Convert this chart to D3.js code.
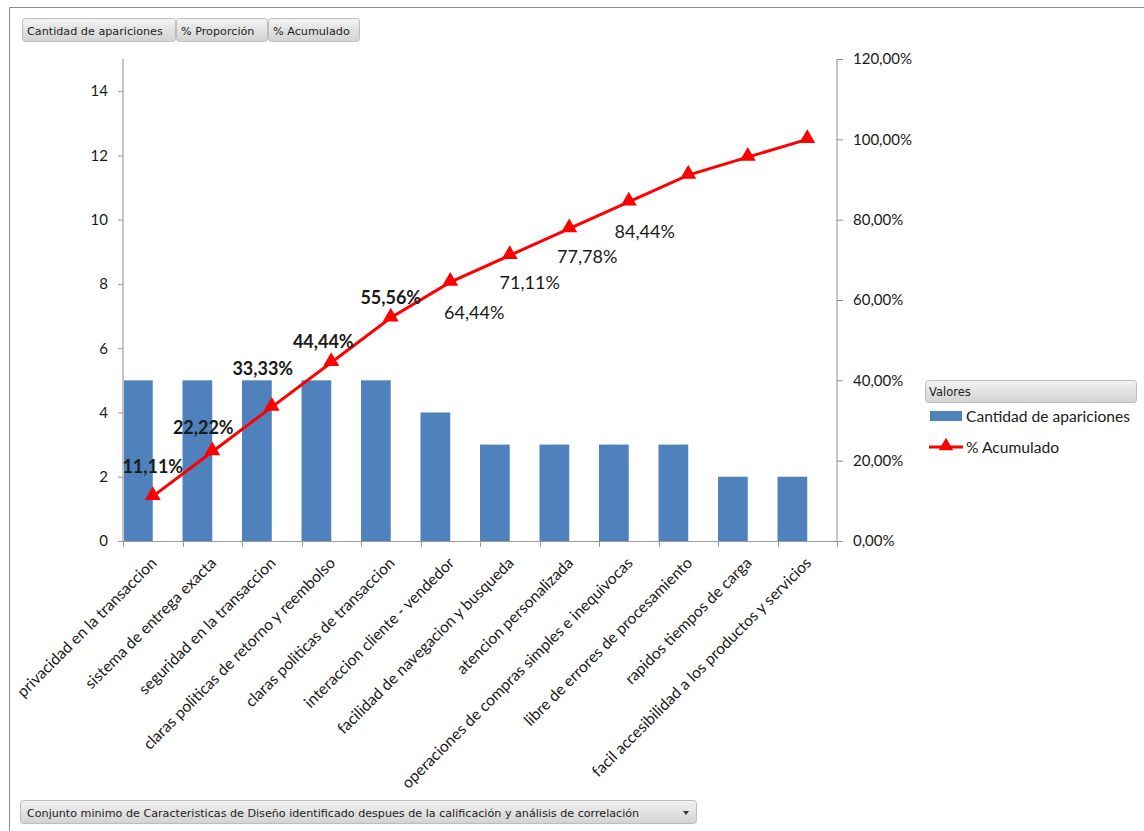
<!DOCTYPE html>
<html>
<head>
<meta charset="utf-8">
<script src="https://cdn.jsdelivr.net/npm/d3@7"></script>
<style>
  html, body { margin: 0; padding: 0; background: #fff; }
  svg { display: block; }
  .lbl { font-family: Lato, "Open Sans", sans-serif; fill: #1a1a1a; }
  .ui { font-family: "DejaVu Sans", Tahoma, sans-serif; fill: #222; }
</style>
</head>
<body>
<svg id="chart" width="1144" height="831"></svg>
<script>
// Pareto data: characteristic, number of occurrences, cumulative share (%)
const categories = [
  "privacidad en la transaccion",
  "sistema de entrega exacta",
  "seguridad en la transaccion",
  "claras politicas de retorno y reembolso",
  "claras politicas de transaccion",
  "interaccion  cliente - vendedor",
  "facilidad de navegacion y busqueda",
  "atencion personalizada",
  "operaciones de compras simples e inequivocas",
  "libre de errores de procesamiento",
  "rapidos tiempos de carga",
  "facil accesibilidad a los productos y servicios"
];
const counts = [5, 5, 5, 5, 5, 4, 3, 3, 3, 3, 2, 2];
const cumulative = [11.11, 22.22, 33.33, 44.44, 55.56, 64.44, 71.11, 77.78, 84.44, 91.11, 95.56, 100.00];
// labels shown on the cumulative line (null = no label)
const cumulativeLabels = ["11,11%", "22,22%", "33,33%", "44,44%", "55,56%", "64,44%", "71,11%", "77,78%", "84,44%", null, null, null];
const leftTicks = [0, 2, 4, 6, 8, 10, 12, 14];
const rightTicks = [0, 20, 40, 60, 80, 100, 120];
const fieldButtons = ["Cantidad de apariciones", "% Proporción", "% Acumulado"];
const filterText = "Conjunto minimo de Caracteristicas de Diseño identificado despues de la calificación y análisis de correlación";
const legendItems = ["Cantidad de apariciones", "% Acumulado"];

// label placement relative to each point (dx, dy) and weight
const labelPlacement = [
  [0, -30, 700], [-9, -24, 700], [-9, -38, 700], [-8, -21, 700], [0, -20, 700],
  [24, 31, 400], [20, 27, 400], [18, 28, 400], [16, 30, 400]
];

const svg = d3.select("#chart");
const plot = { left: 123, right: 837, top: 59, bottom: 541 };

const x = d3.scaleBand().domain(categories).range([plot.left, plot.right]).paddingInner(0).paddingOuter(0);
const yL = d3.scaleLinear().domain([0, 15]).range([plot.bottom, plot.top]);
const yR = d3.scaleLinear().domain([0, 120]).range([plot.bottom, plot.top]);

// frame
svg.append("path").attr("d", "M9.5,831 V7.5 H1144").attr("fill", "none").attr("stroke", "#8a8a8a").attr("stroke-width", 1);

// gradient for pivot buttons
const defs = svg.append("defs");
const g1 = defs.append("linearGradient").attr("id", "btn").attr("x1", 0).attr("x2", 0).attr("y1", 0).attr("y2", 1);
g1.append("stop").attr("offset", "0%").attr("stop-color", "#f3f3f3");
g1.append("stop").attr("offset", "100%").attr("stop-color", "#d2d2d2");

// field buttons
const btnX = [22, 176, 268, 360];
fieldButtons.forEach((t, i) => {
  svg.append("rect").attr("x", btnX[i] + 0.5).attr("y", 18.5).attr("width", btnX[i + 1] - btnX[i] - 1).attr("height", 23)
    .attr("rx", 3).attr("fill", "url(#btn)").attr("stroke", "#bdbdbd");
  svg.append("text").attr("class", "ui").attr("x", btnX[i] + 5).attr("y", 34.5).attr("font-size", 11.2).text(t);
});

// filter dropdown
svg.append("rect").attr("x", 20.5).attr("y", 800.5).attr("width", 676).attr("height", 23).attr("rx", 3)
  .attr("fill", "url(#btn)").attr("stroke", "#bdbdbd");
svg.append("text").attr("class", "ui").attr("x", 27).attr("y", 816.5).attr("font-size", 11.15).text(filterText);
svg.append("path").attr("d", "M683,811 h6 l-3,4 z").attr("fill", "#333");

// bars (left half of each category slot)
svg.append("g").selectAll("rect").data(counts).join("rect")
  .attr("x", (d, i) => x(categories[i]))
  .attr("width", x.bandwidth() / 2)
  .attr("y", d => yL(d))
  .attr("height", d => yL(0) - yL(d))
  .attr("fill", "#4f81bd");

// left axis
const axL = svg.append("g").attr("transform", `translate(${plot.left},0)`)
  .call(d3.axisLeft(yL).tickValues(leftTicks).tickSize(5).tickPadding(10).tickFormat(d3.format("d")));
axL.select(".domain").attr("d", `M0,${plot.top}V${plot.bottom}`).attr("stroke", "#c4c4c4").attr("stroke-width", 2);
axL.selectAll(".tick line").attr("stroke", "#9a9a9a");
axL.selectAll(".tick text").attr("class", "lbl").attr("font-size", 15).attr("fill", "#1a1a1a");

// right axis
const fmtPct = v => v.toFixed(2).replace(".", ",") + "%";
const axR = svg.append("g").attr("transform", `translate(${plot.right},0)`)
  .call(d3.axisRight(yR).tickValues(rightTicks).tickSize(6).tickPadding(10).tickFormat(fmtPct));
axR.select(".domain").attr("d", `M0,${plot.top}V${plot.bottom}`).attr("stroke", "#8c8c8c");
axR.selectAll(".tick line").attr("stroke", "#8c8c8c");
axR.selectAll(".tick text").attr("class", "lbl").attr("font-size", 15).attr("fill", "#1a1a1a");

// category axis
const axX = svg.append("g").attr("transform", `translate(0,${plot.bottom})`);
axX.append("line").attr("x1", plot.left).attr("x2", plot.right + 6).attr("y1", 0.5).attr("y2", 0.5).attr("stroke", "#9a9a9a");
const boundaries = categories.map(c => x(c)).concat([plot.right]);
axX.selectAll("line.tk").data(boundaries).join("line").attr("class", "tk")
  .attr("x1", d => Math.round(d) + 0.5).attr("x2", d => Math.round(d) + 0.5).attr("y1", 0).attr("y2", 6).attr("stroke", "#9a9a9a");
axX.selectAll("text").data(categories).join("text").attr("class", "lbl")
  .attr("font-size", 15.7)
  .attr("text-anchor", "end")
  .attr("transform", d => `translate(${x(d) + x.bandwidth() / 2 + 5},${23}) rotate(-45)`)
  .text(d => d);

// cumulative line
const cx = i => x(categories[i]) + x.bandwidth() / 2;
const line = d3.line().x((d, i) => cx(i)).y(d => yR(d));
svg.append("path").datum(cumulative).attr("d", line).attr("fill", "none").attr("stroke", "#ff0000").attr("stroke-width", 3);
const tri = d3.symbol().type(d3.symbolTriangle).size(110);
svg.append("g").selectAll("path").data(cumulative).join("path")
  .attr("d", tri).attr("transform", (d, i) => `translate(${cx(i)},${yR(d) - 1})`).attr("fill", "#ff0000");

// data labels
svg.append("g").selectAll("text").data(cumulativeLabels.map((t, i) => ({ t, i })).filter(d => d.t)).join("text")
  .attr("class", "lbl")
  .attr("x", d => cx(d.i) + labelPlacement[d.i][0])
  .attr("y", d => yR(cumulative[d.i]) + labelPlacement[d.i][1])
  .attr("dy", "0.35em")
  .attr("text-anchor", "middle")
  .attr("font-size", 18)
  .attr("font-weight", d => labelPlacement[d.i][2])
  .attr("fill", "#111")
  .text(d => d.t);

// legend
svg.append("rect").attr("x", 925.5).attr("y", 380.5).attr("width", 211).attr("height", 22).attr("rx", 3)
  .attr("fill", "url(#btn)").attr("stroke", "#bdbdbd");
svg.append("text").attr("class", "ui").attr("x", 929).attr("y", 396).attr("font-size", 11.5).text("Valores");
svg.append("rect").attr("x", 930).attr("y", 411).attr("width", 32).attr("height", 10).attr("fill", "#4f81bd");
svg.append("text").attr("class", "lbl").attr("x", 966).attr("y", 422).attr("font-size", 15.6).text(legendItems[0]);
svg.append("line").attr("x1", 929).attr("x2", 963).attr("y1", 447).attr("y2", 447).attr("stroke", "#ff0000").attr("stroke-width", 3);
svg.append("path").attr("d", d3.symbol().type(d3.symbolTriangle).size(90)).attr("transform", "translate(946,446)").attr("fill", "#ff0000");
svg.append("text").attr("class", "lbl").attr("x", 966).attr("y", 453).attr("font-size", 15.6).text(legendItems[1]);
</script>
</body>
</html>
